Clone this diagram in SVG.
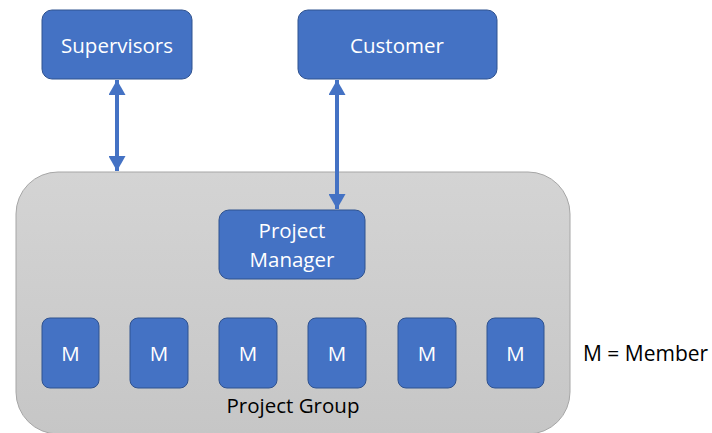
<svg xmlns="http://www.w3.org/2000/svg" width="712" height="433" viewBox="0 0 712 433">
  <defs>
    <linearGradient id="groupFill" x1="0" y1="0" x2="0" y2="1">
      <stop offset="0" stop-color="#d4d4d4"/>
      <stop offset="1" stop-color="#c6c6c6"/>
    </linearGradient>
    <marker id="arrow" viewBox="0 0 16 17" refX="15" refY="8.5" markerWidth="16" markerHeight="17" markerUnits="userSpaceOnUse" orient="auto-start-reverse">
      <path d="M0,0 L15,8.5 L0,17 Z" fill="#4472c4"/>
    </marker>
    <style>
      .box { fill: #4472c4; stroke: #2f528f; stroke-width: 1; }
      .label { fill: #ffffff; font-family: "Open Sans", "Liberation Sans", sans-serif; font-size: 20.5px; text-anchor: middle; }
      .dark { fill: #000000; font-family: "Open Sans", "Liberation Sans", sans-serif; font-size: 20.5px; }
      .legend { font-size: 21px; }
      .link { stroke: #4472c4; stroke-width: 4; fill: none; marker-start: url(#arrow); marker-end: url(#arrow); }
    </style>
  </defs>

  <rect width="712" height="433" fill="#ffffff"/>

  <!-- project group container -->
  <g id="project-group">
    <rect x="16" y="172" width="554" height="262" rx="42" fill="url(#groupFill)" stroke="#a6a6a6" stroke-width="1"/>
    <text class="dark" x="293" y="413" text-anchor="middle">Project Group</text>
  </g>

  <g id="supervisors">
    <rect class="box" x="42" y="10" width="150" height="69" rx="10"/>
    <text class="label" x="117" y="53">Supervisors</text>
  </g>

  <g id="customer">
    <rect class="box" x="298" y="10" width="199" height="69" rx="10"/>
    <text class="label" x="397" y="53">Customer</text>
  </g>

  <g id="project-manager">
    <rect class="box" x="219" y="210" width="146" height="69" rx="10"/>
    <text class="label" x="292" y="238">Project</text>
    <text class="label" x="292" y="267">Manager</text>
  </g>

  <g id="member-1"><rect class="box" x="42" y="318" width="57" height="70" rx="8"/><text class="label" x="70.5" y="361">M</text></g>
  <g id="member-2"><rect class="box" x="130" y="318" width="58" height="70" rx="8"/><text class="label" x="159" y="361">M</text></g>
  <g id="member-3"><rect class="box" x="219" y="318" width="58" height="70" rx="8"/><text class="label" x="248" y="361">M</text></g>
  <g id="member-4"><rect class="box" x="308" y="318" width="58" height="70" rx="8"/><text class="label" x="337" y="361">M</text></g>
  <g id="member-5"><rect class="box" x="398" y="318" width="58" height="70" rx="8"/><text class="label" x="427" y="361">M</text></g>
  <g id="member-6"><rect class="box" x="487" y="318" width="57" height="70" rx="8"/><text class="label" x="515.5" y="361">M</text></g>

  <g id="legend">
    <text class="dark legend" x="583" y="361">M = Member</text>
  </g>

  <g id="connectors">
    <line class="link" x1="117" y1="80" x2="117" y2="171"/>
    <line class="link" x1="337" y1="80" x2="337" y2="209"/>
  </g>
</svg>
